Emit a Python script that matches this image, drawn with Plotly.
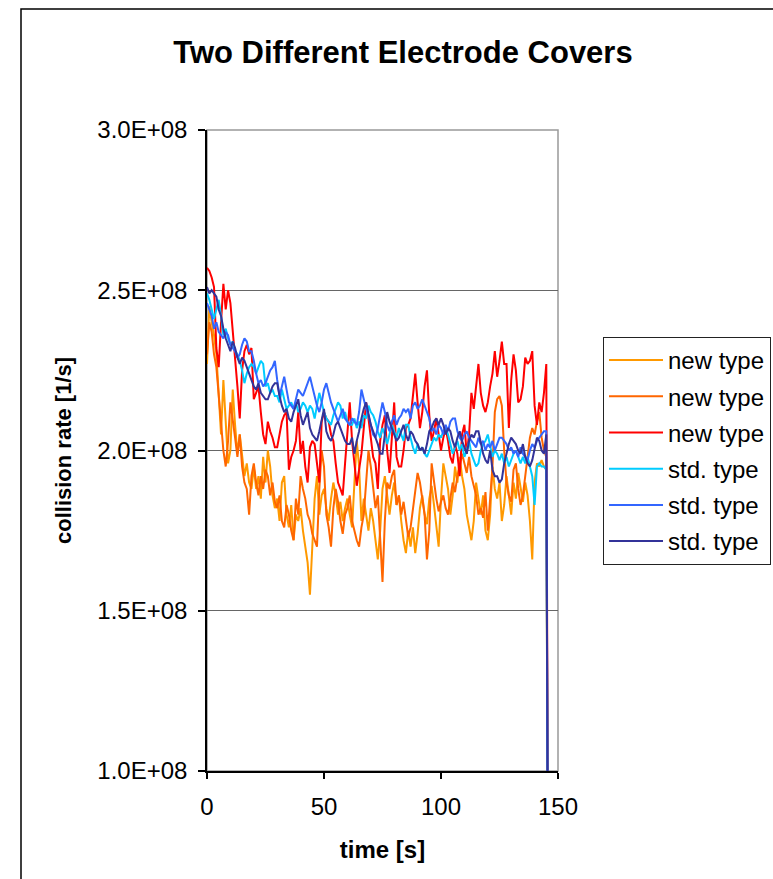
import plotly.graph_objects as go

# time axis in seconds (one sample per second, final sample drops to zero)
time_s = list(range(147))

# collision rate values in units of 1E+06 1/s
new_type_1 = [
    227, 245, 240, 236, 230, 218, 205, 222, 210, 196,
    200, 219, 208, 199, 205, 198, 192, 196, 190, 188,
    195, 188, 192, 185, 198, 190, 200, 195, 186, 182,
    185, 178, 190, 192, 180, 176, 183, 172, 180, 178,
    182, 175, 170, 165, 155, 170, 185, 192, 180, 186,
    188, 182, 178, 185, 190, 186, 180, 184, 178, 182,
    185, 180, 176, 190, 203, 195, 178, 185, 180, 175,
    182, 178, 172, 166, 175, 188, 192, 185, 180, 186,
    190, 183, 186, 178, 172, 168, 175, 170, 176, 168,
    174, 182, 186, 180, 177, 185, 189, 183, 176, 170,
    185, 196, 192, 188, 180, 186, 195, 190, 198, 192,
    188, 180, 176, 172, 178, 190, 185, 180, 186, 175,
    172, 180, 195, 188, 185, 190, 178, 183, 192, 186,
    180, 190, 185, 193, 188, 184, 190, 186, 178, 166,
    190, 196, 195, 197, 195, 194, 0,
]
new_type_2 = [
    230, 240, 237, 230, 226, 218, 210, 200, 195, 203,
    215, 210, 204, 198, 205, 195, 190, 188, 180, 192,
    196, 190, 186, 192, 188, 194, 192, 186, 190, 184,
    182, 186, 178, 176, 183, 180, 175, 172, 185, 180,
    192, 188, 185, 180, 178, 174, 172, 170, 188, 200,
    195, 180, 176, 170, 182, 188, 184, 178, 174, 180,
    182, 186, 178, 175, 172, 170, 176, 180, 190, 200,
    195, 188, 182, 186, 170, 159, 178, 190, 188, 192,
    194, 183, 186, 180, 184, 178, 173, 176, 182, 188,
    193, 190, 185, 180, 166, 175, 196, 190, 185, 181,
    184, 186, 182, 180, 185, 190, 187, 192, 195, 199,
    196, 193, 198, 192, 189, 186, 180, 182, 179, 187,
    175, 186, 195, 212, 216, 217, 214, 200, 190, 186,
    184, 194, 196, 188, 183, 186, 192, 198, 204, 207,
    205, 209, 212, 204, 200, 198, 0,
]
new_type_3 = [
    257, 256, 254, 251, 232, 226, 240, 252, 244, 250,
    246, 238, 229, 220, 210, 225, 231, 233, 230, 232,
    216, 218, 220, 212, 205, 202, 209, 206, 204, 201,
    201, 205, 209, 211, 212, 194, 198, 200, 203, 212,
    199, 203, 195, 190, 201, 203, 202, 196, 190, 209,
    212, 210, 209, 205, 203, 196, 190, 188, 186, 196,
    205, 215, 203, 195, 189, 194, 199, 207, 215, 210,
    203, 198, 196, 188, 203, 208, 211, 200, 193, 205,
    215, 198, 195, 195, 200, 207, 208, 210, 218, 224,
    215, 207, 212, 220, 225, 211, 203, 206, 210, 205,
    200, 204, 207, 203, 198, 196, 202, 199, 192, 205,
    208, 199, 205, 218, 213, 220, 227, 218, 214, 212,
    215, 220, 224, 231, 223, 228, 234, 227, 227, 207,
    222, 230, 225, 215, 216, 220, 229, 227, 228, 231,
    214, 208, 215, 212, 218, 227, 0,
]
std_type_1 = [
    249, 247, 244, 241, 244, 247, 242, 236, 238, 235,
    233, 234, 231, 230, 228, 225, 221, 224, 226, 227,
    226, 224, 226, 228, 227, 220, 221, 218, 219, 217,
    217, 215, 219, 216, 213, 214, 215, 213, 215, 212,
    213, 215, 214, 212, 214, 213, 210, 214, 218, 215,
    212, 210, 209, 208, 211, 213, 215, 214, 210, 212,
    209, 208, 208, 210, 207, 209, 207, 211, 210, 214,
    212, 211, 209, 206, 204, 207, 205, 202, 205, 208,
    206, 204, 207, 205, 203, 208, 208, 204, 201, 199,
    202, 200, 201, 199, 198, 200, 202, 204, 203, 205,
    204, 206, 207, 205, 202, 199, 201, 203, 200, 202,
    198, 200, 203, 199, 197, 195, 196, 200, 202, 203,
    205, 201, 198, 200, 199, 197, 199, 196, 198, 195,
    197, 199, 200, 198, 196, 198, 196, 198, 195, 192,
    183, 195, 196, 195, 195, 194, 0,
]
std_type_2 = [
    246, 244, 242, 238, 240, 237, 236, 235, 237, 236,
    233, 232, 231, 229, 230, 233, 235, 234, 231, 231,
    228, 224, 221, 222, 220, 221, 223, 225, 226, 228,
    222, 217, 220, 223, 219, 215, 214, 213, 216, 219,
    218, 217, 219, 221, 223, 220, 217, 214, 212, 215,
    219, 221, 218, 215, 213, 211, 209, 211, 213, 210,
    209, 208, 210, 209, 208, 212, 219, 216, 213, 211,
    208, 205, 204, 207, 211, 215, 212, 208, 206, 209,
    211, 208, 210, 211, 213, 212, 213, 210, 214, 215,
    213, 214, 216, 214, 212, 210, 206, 207, 205, 208,
    207, 205, 208, 206, 209, 210, 210, 206, 204, 203,
    205, 206, 204, 203, 202, 201, 204, 202, 203, 200,
    202, 201, 203, 200, 202, 204, 204, 203, 202, 200,
    201, 199, 200, 198, 201, 199, 198, 197, 200, 202,
    201, 203, 204, 205, 206, 206, 0,
]
std_type_3 = [
    251, 249, 250, 249, 248, 244, 242, 238, 235, 233,
    231, 234, 232, 229, 227, 229, 228, 226, 224, 222,
    220, 219, 221, 218, 217, 216, 216, 218, 220, 221,
    221, 217, 214, 212, 213, 210, 209, 212, 214, 216,
    211, 208, 210, 212, 207, 205, 204, 203, 206, 210,
    213, 206, 204, 203, 205, 208, 209, 207, 205, 203,
    202, 202, 204, 199, 203, 206, 210, 213, 215, 211,
    208, 206, 204, 202, 199, 199, 205, 212, 209, 207,
    205, 203, 204, 206, 208, 205, 203, 206, 205, 203,
    202, 200, 201, 199, 202, 206, 207, 209, 210, 208,
    210, 208, 205, 207, 206, 203, 201, 204, 206, 203,
    201, 199, 203, 205, 204, 206, 206, 202, 199, 197,
    196, 200, 194, 192, 192, 190, 191, 196, 199, 202,
    204, 203, 202, 200, 199, 202, 198, 196, 195, 197,
    201, 204, 203, 200, 199, 205, 0,
]

series_names = ["new type", "new type", "new type", "std. type", "std. type", "std. type"]
series_values = [new_type_1, new_type_2, new_type_3, std_type_1, std_type_2, std_type_3]
series_colors = ["#FF9900", "#FF6600", "#FF0000", "#00CCFF", "#3366FF", "#333399"]

y_tick_vals = [1.0e8, 1.5e8, 2.0e8, 2.5e8, 3.0e8]
y_tick_text = ["1.0E+08", "1.5E+08", "2.0E+08", "2.5E+08", "3.0E+08"]
x_tick_vals = [0, 50, 100, 150]
x_tick_text = ["0", "50", "100", "150"]

FONT = "Arial, 'Liberation Sans', sans-serif"

fig = go.Figure()
for i, (name, vals, col) in enumerate(zip(series_names, series_values, series_colors)):
    fig.add_trace(go.Scatter(
        x=time_s[:len(vals)],
        y=[v * 1e6 for v in vals],
        mode="lines",
        name=name,
        legendgroup=f"g{i}",
        line=dict(color=col, width=2),
    ))

# plot area geometry (pixels)
L, R, T, B = 207, 558, 130, 771
W, H = 773, 879
pw, ph = R - L, B - T

def px_x(px):
    return (px - L) / pw

def px_y(py):
    return (B - py) / ph

fig.update_layout(
    width=W, height=H,
    margin=dict(l=L, r=W - R, t=T, b=H - B, autoexpand=False),
    paper_bgcolor="white",
    plot_bgcolor="white",
    font=dict(family=FONT, color="black"),
    title=dict(
        text="<b>Two Different Electrode Covers</b>",
        font=dict(size=31, family=FONT, color="black"),
        xref="container", x=403 / W, xanchor="center",
        yref="container", y=1 - 52 / H, yanchor="middle",
    ),
    showlegend=True,
    legend=dict(
        x=px_x(603), y=px_y(337), xanchor="left", yanchor="top",
        bordercolor="#222222", borderwidth=1,
        bgcolor="white",
        font=dict(size=24, family=FONT, color="black"),
        traceorder="grouped",
        tracegroupgap=2,
        itemwidth=54,
    ),
    xaxis=dict(
        range=[0, 150],
        tickmode="array", tickvals=x_tick_vals, ticktext=x_tick_text,
        ticks="outside", ticklen=6, tickwidth=1.5, tickcolor="black",
        showline=True, linecolor="black", linewidth=1.5,
        showgrid=False, zeroline=False,
        tickfont=dict(size=24, family=FONT, color="black"),
        ticklabelstandoff=7,
        title=dict(text="<b>time [s]</b>", font=dict(size=24, family=FONT, color="black"), standoff=23),
    ),
    yaxis=dict(
        range=[1.0e8, 3.0e8],
        tickmode="array", tickvals=y_tick_vals, ticktext=y_tick_text,
        ticks="outside", ticklen=7, tickwidth=1.5, tickcolor="black",
        showline=True, linecolor="black", linewidth=1.5,
        showgrid=True, gridcolor="#666666", gridwidth=1.3,
        zeroline=False,
        tickfont=dict(size=24, family=FONT, color="black"),
        ticklabelstandoff=6,
        title=dict(text="<b>collision rate [1/s]</b>", font=dict(size=22, family=FONT, color="black"), standoff=20),
    ),
    shapes=[
        # plot area frame
        dict(type="rect", xref="paper", yref="paper", x0=0, x1=1, y0=0, y1=1,
             line=dict(color="#999999", width=1.5), layer="below"),
        # chart area border
        dict(type="rect", xref="paper", yref="paper",
             x0=px_x(21), x1=px_x(800), y0=px_y(900), y1=px_y(9),
             line=dict(color="black", width=1.5), layer="above"),
    ],
)

fig.write_html("out.html")
